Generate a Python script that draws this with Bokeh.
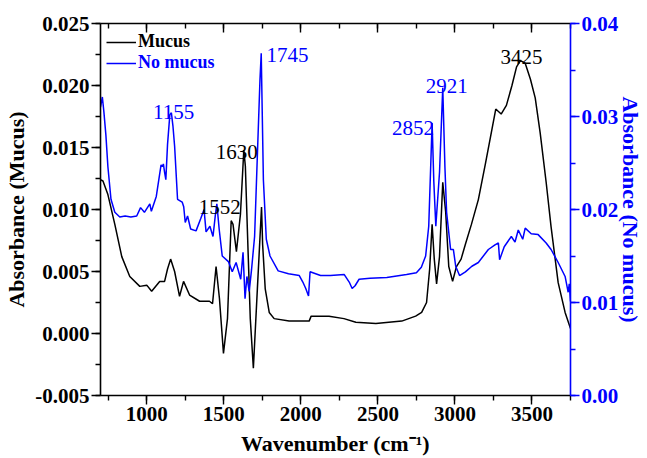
import numpy as np
from bokeh.plotting import figure
from bokeh.models import (Range1d, LinearAxis, SingleIntervalTicker, Legend, LegendItem,
                          ColumnDataSource, NumeralTickFormatter, CustomLabelingPolicy)
from bokeh.embed import file_html
from bokeh.resources import INLINE
from bokeh.core.properties import value

# ---------------- data ----------------
mucus_wn = [700, 716, 748, 793, 838, 890, 955, 1000, 1032, 1084, 1116, 1135, 1155, 1181,
            1213, 1239, 1278, 1343, 1407, 1427, 1450, 1472, 1498, 1524, 1548, 1560, 1582,
            1608, 1630, 1640, 1653, 1672, 1692, 1718, 1745, 1752, 1769, 1795, 1827, 1924,
            2054, 2067, 2183, 2280, 2357, 2487, 2655, 2745, 2784, 2816, 2836, 2852, 2866,
            2881, 2900, 2921, 2940, 2960, 2985, 3010, 3040, 3068, 3107, 3152, 3198, 3230,
            3265, 3300, 3334, 3370, 3400, 3425, 3456, 3490, 3521, 3553, 3592, 3624, 3670,
            3715, 3750]
mucus_abs = [0.0124, 0.0123, 0.0112, 0.0088, 0.0062, 0.0046, 0.0038, 0.0039, 0.0034, 0.0042,
             0.0042, 0.0052, 0.0060, 0.0050, 0.0030, 0.0042, 0.0031, 0.0026, 0.0026, 0.0024,
             0.0054, 0.0028, -0.0016, 0.0012, 0.0091, 0.0088, 0.0066, 0.0096, 0.0148, 0.0135,
             0.0084, 0.0012, -0.0028, 0.0036, 0.0102, 0.0072, 0.0036, 0.0017, 0.0012, 0.0010,
             0.0010, 0.0014, 0.0014, 0.0012, 0.0009, 0.0008, 0.0010, 0.0014, 0.0017, 0.0025,
             0.0052, 0.0088, 0.0060, 0.0040, 0.0062, 0.0122, 0.0098, 0.0054, 0.0042, 0.0054,
             0.0060, 0.0072, 0.0088, 0.0108, 0.0137, 0.0158, 0.0181, 0.0177, 0.0184, 0.0200,
             0.0215, 0.0220, 0.0218, 0.0205, 0.0190, 0.0162, 0.0122, 0.0086, 0.0041, 0.0017,
             0.0004]

nomucus_wn = [700, 712, 722, 735, 748, 768, 793, 825, 860, 897, 935, 960, 985, 1020, 1030,
              1062, 1093, 1100, 1108, 1116, 1124, 1135, 1150, 1160, 1170, 1181, 1200, 1230,
              1240, 1250, 1265, 1285, 1320, 1350, 1372, 1385, 1410, 1430, 1446, 1455, 1470,
              1490, 1530, 1555, 1580, 1610, 1625, 1638, 1650, 1665, 1680, 1700, 1720, 1735,
              1743, 1750, 1757, 1776, 1800, 1853, 1920, 1990, 2013, 2032, 2050, 2060, 2128,
              2192, 2282, 2314, 2333, 2352, 2378, 2449, 2558, 2686, 2750, 2782, 2810, 2830,
              2852, 2863, 2876, 2900, 2921, 2935, 2946, 2972, 2990, 3005, 3030, 3068, 3110,
              3152, 3217, 3260, 3282, 3290, 3320, 3366, 3390, 3411, 3440, 3456, 3495, 3540,
              3592, 3624, 3670, 3715, 3735, 3742, 3750]
nomucus_abs = [0.0310, 0.0321, 0.0305, 0.0280, 0.0246, 0.0211, 0.0197, 0.0192, 0.0193, 0.0192,
               0.0193, 0.0202, 0.0197, 0.0206, 0.0198, 0.0214, 0.0248, 0.0246, 0.0249, 0.0240,
               0.0232, 0.0270, 0.0302, 0.0304, 0.0290, 0.0268, 0.0211, 0.0208, 0.0203, 0.0186,
               0.0193, 0.0179, 0.0177, 0.0190, 0.0200, 0.0176, 0.0182, 0.0171, 0.0195, 0.0206,
               0.0179, 0.0150, 0.0144, 0.0133, 0.0143, 0.0125, 0.0154, 0.0104, 0.0128, 0.0112,
               0.0135, 0.0171, 0.0268, 0.0340, 0.0368, 0.0300, 0.0232, 0.0168, 0.0150, 0.0134,
               0.0131, 0.0129, 0.0122, 0.0115, 0.0107, 0.0133, 0.0129, 0.0129, 0.0130, 0.0122,
               0.0115, 0.0118, 0.0125, 0.0126, 0.0127, 0.0130, 0.0132, 0.0138, 0.0150, 0.0182,
               0.0293, 0.0230, 0.0182, 0.0240, 0.0331, 0.0246, 0.0197, 0.0157, 0.0157, 0.0139,
               0.0129, 0.0133, 0.0139, 0.0143, 0.0157, 0.0162, 0.0164, 0.0146, 0.0160, 0.0171,
               0.0165, 0.0178, 0.0168, 0.0180, 0.0174, 0.0173, 0.0164, 0.0157, 0.0143, 0.0128,
               0.0111, 0.0120, 0.0101]

series_names = ["Mucus", "No mucus"]
axis_titles = ["Wavenumber (cm\u207b\u00b9)", "Absorbance (Mucus)", "Absorbance (No mucus)"]

mucus_peaks = [1552, 1630, 3425]
nomucus_peaks = [1155, 1745, 2852, 2921]

x_range = (700, 3750)
left_range = (-0.005, 0.025)
right_range = (0.0, 0.04)

# ---------------- styles ----------------
BLUE = "#0000ff"
SERIF = "Liberation Serif"
# screen offsets of the peak labels (dx, dy, align)
mucus_label_style = [(-12, -14, "center"), (-7, 2, "center"), (1, -4, "center")]
nomucus_label_style = [(3, -1, "center"), (5, 2, "left"), (2, 5, "right"), (4, -2, "center")]

p = figure(width=646, height=458, output_backend="svg", toolbar_location=None,
           x_range=Range1d(*x_range), y_range=Range1d(*left_range),
           min_border_left=100, min_border_right=73, min_border_top=23, min_border_bottom=62)
p.extra_y_ranges = {"right": Range1d(*right_range)}
p.grid.visible = False
p.outline_line_color = None
p.background_fill_color = "white"
p.border_fill_color = "white"


def style_axis(ax, color, ticker, fmt=None, label=None, label_standoff=3):
    ax.ticker = ticker
    if fmt is not None:
        ax.formatter = NumeralTickFormatter(format=fmt)
    ax.axis_line_color = color
    ax.axis_line_width = 1.6
    ax.major_tick_line_color = color
    ax.minor_tick_line_color = color
    ax.major_tick_line_width = 1.4
    ax.minor_tick_line_width = 1.4
    ax.major_tick_out = 9
    ax.major_tick_in = 0
    ax.minor_tick_out = 5
    ax.minor_tick_in = 0
    ax.major_label_text_color = color
    ax.major_label_text_font = SERIF
    ax.major_label_text_font_style = "bold"
    ax.major_label_text_font_size = "21px"
    ax.major_label_standoff = 2
    if label is not None:
        ax.axis_label = label
        ax.axis_label_text_color = color
        ax.axis_label_text_font = SERIF
        ax.axis_label_text_font_style = "bold"
        ax.axis_label_text_font_size = "22px"
        ax.axis_label_standoff = label_standoff


style_axis(p.xaxis[0], "black", SingleIntervalTicker(interval=500, num_minor_ticks=2), "0",
           axis_titles[0], label_standoff=7)
style_axis(p.yaxis[0], "black", SingleIntervalTicker(interval=0.005, num_minor_ticks=2), "0.000",
           axis_titles[1], label_standoff=3)

right_axis = LinearAxis(y_range_name="right")
style_axis(right_axis, BLUE, SingleIntervalTicker(interval=0.01, num_minor_ticks=2), "0.00",
           axis_titles[2], label_standoff=-3)
p.add_layout(right_axis, "right")

top_axis = LinearAxis(major_label_policy=CustomLabelingPolicy(code="return []"))
style_axis(top_axis, "black", SingleIntervalTicker(interval=500, num_minor_ticks=2))
top_axis.major_tick_out = 0
top_axis.major_tick_in = 9
top_axis.minor_tick_out = 0
top_axis.minor_tick_in = 5
top_axis.major_label_standoff = 0
p.add_layout(top_axis, "above")

r_m = p.line(mucus_wn, mucus_abs, line_color="black", line_width=1.5)
r_n = p.line(nomucus_wn, nomucus_abs, line_color=BLUE, line_width=1.5, y_range_name="right")


def peak_height(wns, vals, w):
    wns = np.asarray(wns)
    vals = np.asarray(vals)
    m = np.abs(wns - w) <= 12
    return float(vals[m].max()) if m.any() else float(np.interp(w, wns, vals))


def add_labels(peaks, wns, vals, styles, color, rng):
    for w, (dx, dy, al) in zip(peaks, styles):
        src = ColumnDataSource(dict(x=[w], y=[peak_height(wns, vals, w)], t=[str(w)]))
        kw = {} if rng is None else {"y_range_name": rng}
        p.text(x="x", y="y", text="t", source=src, x_offset=dx, y_offset=dy,
               text_align=al, text_baseline="alphabetic", text_color=color,
               text_font=value(SERIF), text_font_size="21px", **kw)


add_labels(mucus_peaks, mucus_wn, mucus_abs, mucus_label_style, "black", None)
add_labels(nomucus_peaks, nomucus_wn, nomucus_abs, nomucus_label_style, BLUE, "right")

for name, rend, col, loc in [(series_names[0], r_m, "black", (6, 343)),
                             (series_names[1], r_n, BLUE, (6, 322))]:
    lg = Legend(items=[LegendItem(label=name, renderers=[rend])], location=loc,
                border_line_color=None, background_fill_alpha=0, padding=0, margin=0,
                spacing=0, glyph_width=30, glyph_height=20, label_height=20,
                label_standoff=2, label_text_color=col, label_text_font=SERIF,
                label_text_font_style="bold", label_text_font_size="18px")
    p.add_layout(lg)

open("out.html", "w").write(file_html(p, INLINE))
